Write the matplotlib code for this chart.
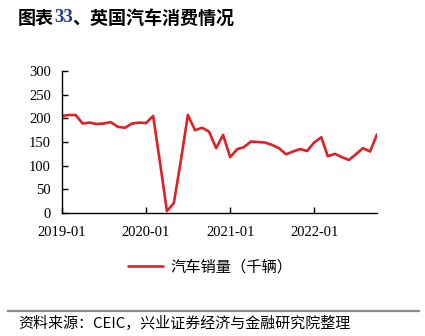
import pandas as pd
import matplotlib
matplotlib.use('Agg')
import matplotlib.pyplot as plt
import matplotlib.dates as mdates

plt.rcParams['font.family'] = ['Noto Sans CJK SC', 'DejaVu Sans']

# 英国汽车月度销量（千辆），2019-01 至 2022-10
months = pd.date_range('2019-01-01', '2022-10-01', freq='MS')
sales = [205, 207, 207, 189, 191, 188, 189, 192, 182, 180, 189, 191,
         190, 205, 110, 4, 21, 112, 207, 175, 180, 172, 137, 165,
         118, 135, 139, 151, 150, 149, 144, 137, 124, 130, 135, 131,
         149, 160, 120, 125, 118, 112, 124, 137, 130, 166]
series_name = '汽车销量（千辆）'
tick_dates = pd.to_datetime(['2019-01-01', '2020-01-01', '2021-01-01', '2022-01-01'])
y_ticks = [0, 50, 100, 150, 200, 250, 300]

fig = plt.figure(figsize=(4.25, 3.36), dpi=100)
ax = fig.add_axes([62 / 425, 1 - 213 / 336, (377 - 62) / 425, (213 - 71) / 336])

line, = ax.plot(months, sales, color='#DC2127', lw=1.9, solid_joinstyle='round',
                solid_capstyle='round', label=series_name)

ax.set_xlim(months[0], months[-1])
ax.set_ylim(0, 300)
ax.set_yticks(y_ticks)
ax.set_xticks(tick_dates)
ax.xaxis.set_major_formatter(mdates.DateFormatter('%Y-%m'))

serif = 'Liberation Serif'
for lab in ax.get_xticklabels() + ax.get_yticklabels():
    lab.set_fontfamily(serif)
    lab.set_fontsize(10.5)
ax.tick_params(axis='both', direction='in', length=4, width=1, color='black')
ax.tick_params(axis='x', pad=9)
ax.tick_params(axis='y', pad=8)

for s in ('top', 'right'):
    ax.spines[s].set_visible(False)
for s in ('left', 'bottom'):
    ax.spines[s].set_linewidth(1)
    ax.spines[s].set_color('black')

# 标题：编号用深蓝色
t1 = fig.text(18 / 425, 1 - 18 / 336, '图表', fontsize=13, fontweight='bold',
              va='center', ha='left', color='black')
t2 = ax.annotate('33', xy=(1, 0.5), xycoords=t1, va='center', ha='left',
                 fontsize=13.5, fontweight='bold', color='#1F3A8A', family=serif,
                 annotation_clip=False)
t3 = ax.annotate('、英国汽车消费情况', xy=(1, 0.5), xycoords=t2, va='center', ha='left',
                 fontsize=13, fontweight='bold', color='black', annotation_clip=False)

fig.legend(handles=[line], loc='center', bbox_to_anchor=(210 / 425, 1 - 267 / 336),
           frameon=False, fontsize=11, handlelength=2.3, handletextpad=0.5)

# 资料来源
fig.add_artist(plt.Line2D([8 / 425, 419 / 425], [1 - 311 / 336] * 2,
                          color='#8C8C8C', lw=1.6, transform=fig.transFigure))
fig.text(18 / 425, 1 - 324 / 336, '资料来源：CEIC，兴业证券经济与金融研究院整理',
         fontsize=10.8, va='center', ha='left', color='black')

fig.savefig('out.png', dpi=100)
